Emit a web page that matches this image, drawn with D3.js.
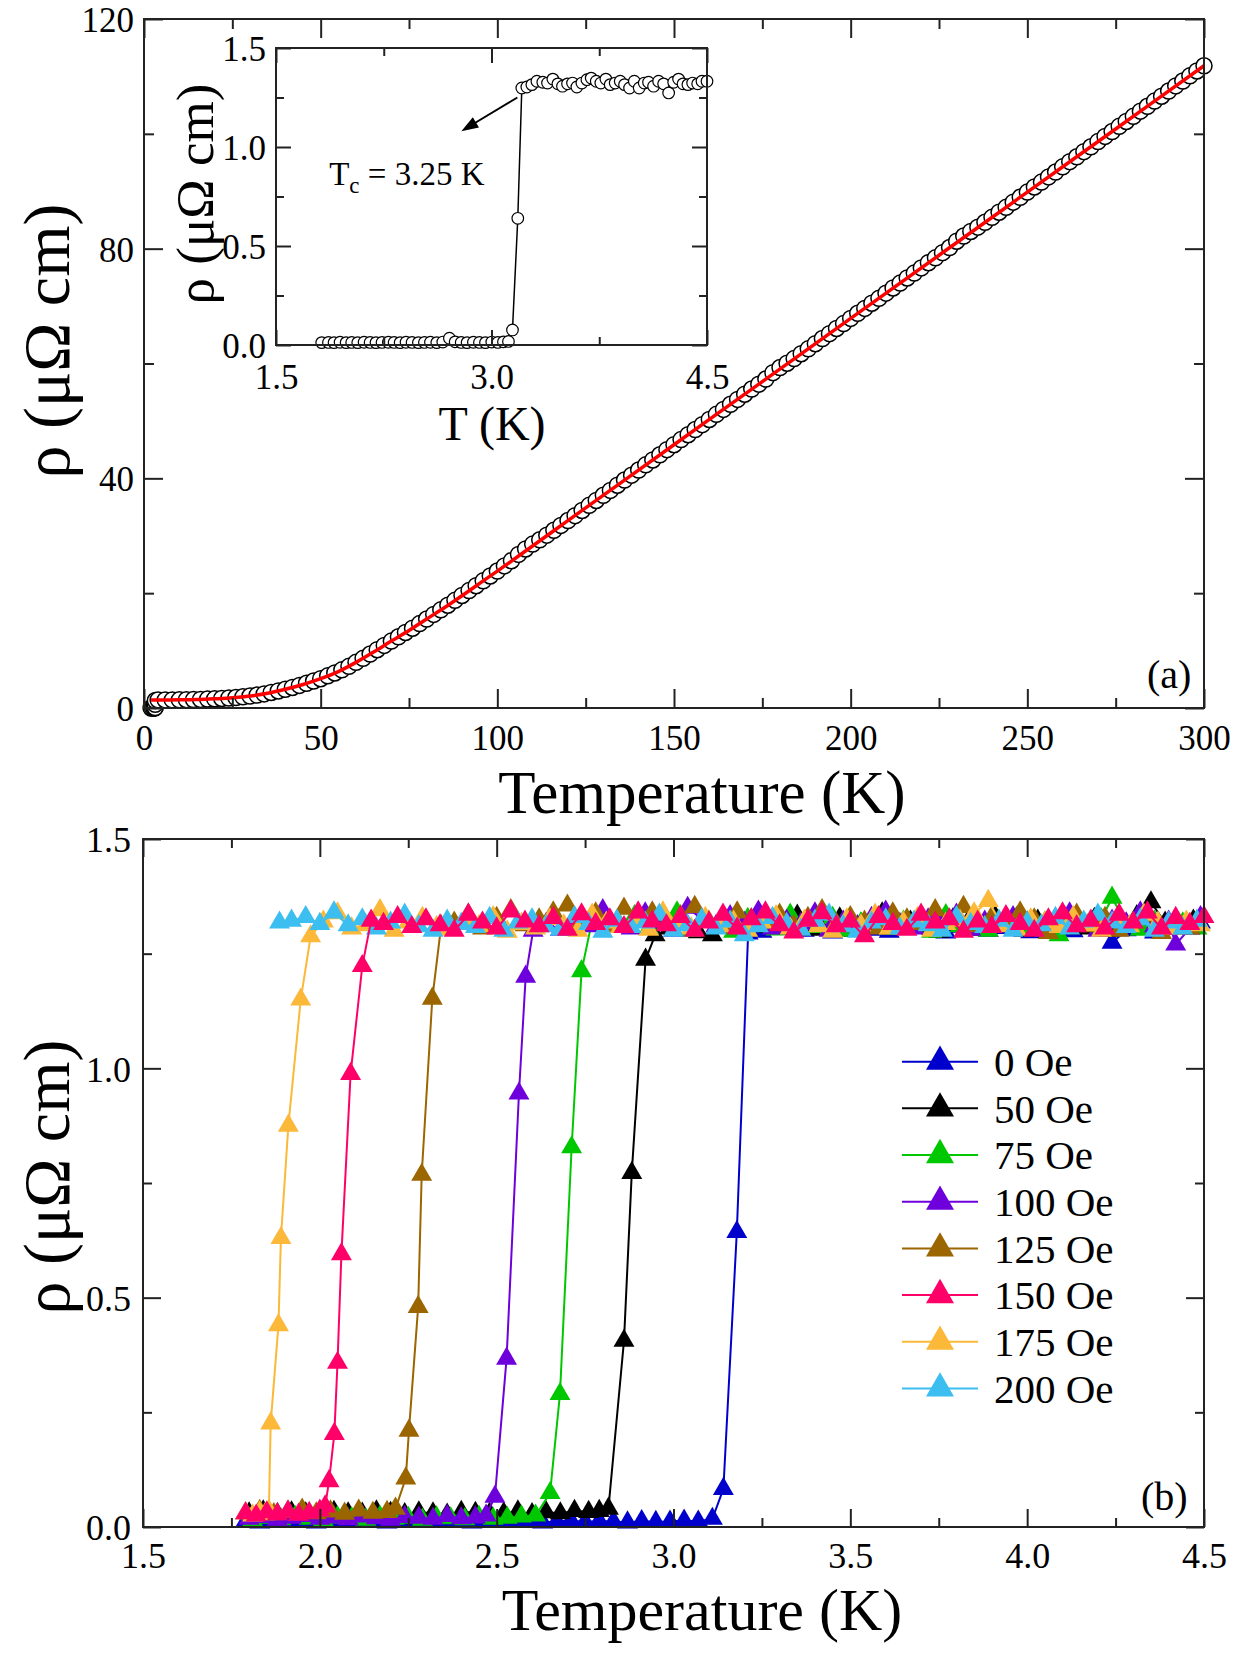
<!DOCTYPE html>
<html>
<head>
<meta charset="utf-8">
<script src="https://cdnjs.cloudflare.com/ajax/libs/d3/7.8.5/d3.min.js"></script>
<style>
body{margin:0;background:#fff}
text{font-family:"Liberation Serif","Times New Roman",serif;fill:#000}
</style>
</head>
<body>
<script>
// ---------- panel (a): rho(T) 2-300 K ----------
var tempA = [2.0,2.4,2.8,3.1,3.15,3.18,3.21,
	4,6,8,10,12,14,16,18,20,22,
	24,26,28,30,32,34,36,38,40,42,
	44,46,48,50,52,54,56,58,60,62,
	64,66,68,70,72,74,76,78,80,82,
	84,86,88,90,92,94,96,98,100,102,
	104,106,108,110,112,114,116,118,120,122,
	124,126,128,130,132,134,136,138,140,142,
	144,146,148,150,152,154,156,158,160,162,
	164,166,168,170,172,174,176,178,180,182,
	184,186,188,190,192,194,196,198,200,202,
	204,206,208,210,212,214,216,218,220,222,
	224,226,228,230,232,234,236,238,240,242,
	244,246,248,250,252,254,256,258,260,262,
	264,266,268,270,272,274,276,278,280,282,
	284,286,288,290,292,294,296,298,300];
var rhoA = [0.0,0.0,0.0,0.02,0.08,0.64,1.30,
	1.40,1.40,1.41,1.42,1.44,1.46,1.50,1.55,1.60,1.66,
	1.73,1.82,1.94,2.08,2.25,2.45,2.70,2.97,3.26,3.58,
	3.93,4.30,4.70,5.10,5.60,6.10,6.65,7.25,7.95,8.65,
	9.40,10.15,10.90,11.65,12.40,13.15,13.90,14.70,15.50,16.30,
	17.10,17.90,18.75,19.60,20.45,21.30,22.15,23.00,23.85,24.75,
	25.65,26.75,27.70,28.55,29.30,30.10,30.95,31.80,32.65,33.50,
	34.40,35.30,36.15,37.05,37.90,38.80,39.70,40.55,41.45,42.35,
	43.20,44.10,45.00,45.85,46.75,47.60,48.50,49.35,50.25,51.15,
	52.00,52.90,53.75,54.65,55.55,56.40,57.30,58.40,59.30,60.05,
	60.85,61.70,62.55,63.45,64.35,65.20,66.10,66.95,67.85,68.75,
	69.60,70.50,71.35,72.25,73.15,74.00,74.90,75.75,76.65,77.55,
	78.40,79.30,80.20,81.30,82.20,83.00,83.75,84.60,85.45,86.35,
	87.20,88.10,88.95,89.85,90.75,91.60,92.50,93.35,94.25,95.15,
	96.00,96.90,97.75,98.65,99.55,100.40,101.30,102.15,103.05,103.95,
	104.80,105.70,106.55,107.45,108.35,109.20,110.10,110.95,111.85];
// fitted curve (red line)
var fitT = [2,5,10,15,20,25,30,35,40,45,50,55,60,65,70,75,80,85,90,95,100,125,150,175,200,225,250,275,300];
var fitRho = [1.39,1.40,1.42,1.47,1.60,1.77,2.08,2.56,3.26,4.10,5.10,6.35,7.95,9.75,11.65,13.50,15.50,17.45,19.55,21.70,23.85,34.85,45.85,56.85,67.85,78.85,89.85,100.85,111.85];

// ---------- inset: low-T zero field ----------
var tInset = [1.818,1.865,1.904,1.946,1.988,2.027,2.069,2.113,2.155,2.196,
	2.238,2.282,2.322,2.364,2.405,2.447,2.491,2.533,2.575,2.619,
	2.661,2.707,2.747,2.789,2.830,2.874,2.916,2.958,3.002,3.044,
	3.083,3.118,3.146,3.183,3.211,
	3.246,3.281,3.316,3.357,3.390,3.427,3.462,3.494,3.529,3.564,
	3.594,3.629,3.664,3.694,3.729,3.761,3.796,3.826,3.861,3.896,
	3.926,3.961,3.994,4.028,4.063,4.093,4.128,4.163,4.198,4.233,
	4.268,4.302,4.333,4.367,4.400,4.435,4.465,4.500];
var rhoInset = [0.012,0.013,0.012,0.014,0.012,0.013,0.012,0.014,0.013,0.012,
	0.013,0.014,0.013,0.012,0.014,0.013,0.012,0.013,0.014,0.012,
	0.015,0.034,0.016,0.013,0.012,0.014,0.013,0.012,0.015,0.013,
	0.016,0.018,0.076,0.640,1.298,
	1.303,1.315,1.332,1.327,1.323,1.343,1.319,1.307,1.319,1.323,
	1.303,1.323,1.340,1.348,1.332,1.323,1.343,1.315,1.323,1.332,
	1.315,1.298,1.332,1.298,1.323,1.327,1.307,1.332,1.319,1.273,
	1.327,1.343,1.319,1.315,1.323,1.319,1.332,1.332];

// ---------- panel (b): field series, [T, rho] ----------
var rho0Oe = [[1.79,0.012],[1.83,0.010],[1.87,0.014],[1.91,0.011],[1.95,0.013],[1.99,0.010],[2.03,0.012],[2.07,0.015],[2.11,0.011],[2.15,0.013],
	[2.19,0.010],[2.23,0.012],[2.27,0.014],[2.31,0.011],[2.35,0.013],[2.39,0.012],[2.43,0.010],[2.47,0.014],[2.51,0.012],[2.55,0.011],
	[2.59,0.013],[2.63,0.010],[2.67,0.012],[2.71,0.014],[2.75,0.011],[2.79,0.013],[2.83,0.012],[2.87,0.010],[2.91,0.013],[2.95,0.011],
	[2.99,0.012],[3.03,0.014],[3.07,0.012],[3.11,0.018],
	[3.141,0.083],[3.179,0.643],[3.211,1.294],
	[3.25,1.298],[3.29,1.305],[3.33,1.312],[3.37,1.300],[3.41,1.318],[3.45,1.296],[3.49,1.308],[3.53,1.315],[3.57,1.302],[3.61,1.298],
	[3.65,1.311],[3.69,1.320],[3.73,1.304],[3.77,1.296],[3.81,1.309],[3.85,1.315],[3.89,1.300],[3.93,1.306],[3.97,1.318],[4.01,1.297],
	[4.05,1.303],[4.09,1.312],[4.13,1.299],[4.17,1.307],[4.21,1.316],[4.24,1.274],[4.28,1.301],[4.32,1.310],[4.36,1.296],[4.40,1.305],
	[4.44,1.312],[4.49,1.318]];
var rho50Oe = [[1.80,0.030],[1.84,0.034],[1.88,0.028],[1.92,0.032],[1.96,0.030],[2.00,0.027],[2.04,0.033],[2.08,0.030],[2.12,0.029],[2.16,0.034],
	[2.20,0.031],[2.24,0.028],[2.28,0.032],[2.32,0.030],[2.36,0.027],[2.40,0.033],[2.44,0.031],[2.48,0.029],[2.52,0.030],[2.56,0.034],
	[2.60,0.028],[2.64,0.032],[2.68,0.030],[2.72,0.035],[2.76,0.033],
	[2.79,0.035],[2.816,0.040],[2.860,0.406],[2.882,0.772],[2.921,1.237],[2.948,1.290],
	[2.99,1.305],[3.03,1.318],[3.07,1.297],[3.11,1.290],[3.15,1.312],[3.19,1.300],[3.23,1.322],[3.27,1.308],[3.31,1.315],[3.35,1.333],
	[3.39,1.302],[3.43,1.318],[3.47,1.327],[3.51,1.300],[3.55,1.312],[3.59,1.338],[3.63,1.305],[3.67,1.320],[3.71,1.310],[3.75,1.298],
	[3.79,1.325],[3.83,1.316],[3.87,1.302],[3.91,1.330],[3.95,1.312],[3.99,1.300],[4.03,1.322],[4.07,1.308],[4.11,1.318],[4.15,1.305],
	[4.19,1.326],[4.23,1.300],[4.27,1.315],[4.31,1.332],[4.35,1.362],[4.39,1.318],[4.43,1.305],[4.47,1.322]];
var rho75Oe = [[1.81,0.015],[1.85,0.020],[1.89,0.017],[1.93,0.022],[1.97,0.018],[2.01,0.015],[2.05,0.021],[2.09,0.019],[2.13,0.016],[2.17,0.022],
	[2.21,0.018],[2.25,0.020],[2.29,0.016],[2.33,0.021],[2.37,0.019],[2.41,0.017],[2.45,0.022],[2.49,0.018],[2.53,0.020],[2.57,0.023],
	[2.61,0.025],
	[2.651,0.074],[2.679,0.290],[2.712,0.828],[2.740,1.212],[2.768,1.315],
	[2.81,1.325],[2.85,1.310],[2.89,1.332],[2.93,1.305],[2.97,1.318],[3.01,1.340],[3.05,1.300],[3.09,1.322],[3.13,1.312],[3.17,1.298],
	[3.21,1.326],[3.25,1.315],[3.29,1.303],[3.33,1.335],[3.37,1.318],[3.41,1.308],[3.45,1.328],[3.49,1.300],[3.53,1.316],[3.57,1.330],
	[3.61,1.305],[3.65,1.320],[3.69,1.312],[3.73,1.298],[3.77,1.334],[3.81,1.310],[3.85,1.322],[3.89,1.300],[3.93,1.315],[3.97,1.328],
	[4.01,1.306],[4.05,1.318],[4.09,1.290],[4.13,1.322],[4.17,1.312],[4.21,1.325],[4.24,1.372],[4.28,1.315],[4.32,1.302],[4.36,1.320],
	[4.40,1.310],[4.44,1.316],[4.48,1.305]];
var rho100Oe = [[1.80,0.018],[1.84,0.022],[1.88,0.016],[1.92,0.020],[1.96,0.024],[2.00,0.018],[2.04,0.021],[2.08,0.017],[2.12,0.023],[2.16,0.019],
	[2.20,0.016],[2.24,0.022],[2.28,0.020],[2.32,0.018],[2.36,0.024],[2.40,0.019],[2.44,0.021],[2.47,0.025],
	[2.495,0.066],[2.528,0.367],[2.563,0.945],[2.582,1.200],[2.603,1.300],
	[2.64,1.315],[2.68,1.302],[2.72,1.328],[2.76,1.310],[2.80,1.345],[2.84,1.320],[2.88,1.305],[2.92,1.338],[2.96,1.318],[3.00,1.300],
	[3.04,1.350],[3.08,1.325],[3.12,1.310],[3.16,1.332],[3.20,1.318],[3.24,1.342],[3.28,1.305],[3.32,1.322],[3.36,1.315],[3.40,1.338],
	[3.44,1.300],[3.48,1.320],[3.52,1.310],[3.56,1.328],[3.60,1.342],[3.64,1.315],[3.68,1.305],[3.72,1.325],[3.76,1.318],[3.80,1.335],
	[3.84,1.302],[3.88,1.320],[3.92,1.312],[3.96,1.330],[4.00,1.318],[4.04,1.305],[4.08,1.325],[4.12,1.338],[4.16,1.312],[4.20,1.300],
	[4.24,1.322],[4.28,1.316],[4.32,1.340],[4.36,1.310],[4.40,1.320],[4.42,1.270],[4.46,1.305],[4.49,1.330]];
var rho125Oe = [[1.79,0.030],[1.83,0.035],[1.87,0.028],[1.91,0.033],[1.95,0.038],[1.99,0.030],[2.03,0.034],[2.07,0.029],[2.11,0.036],[2.15,0.031],
	[2.19,0.033],
	[2.214,0.040],[2.243,0.106],[2.252,0.210],[2.278,0.480],[2.288,0.768],[2.318,1.152],[2.343,1.310],
	[2.38,1.318],[2.42,1.335],[2.46,1.305],[2.50,1.328],[2.54,1.345],[2.58,1.312],[2.62,1.325],[2.66,1.340],[2.70,1.355],[2.74,1.320],
	[2.78,1.338],[2.82,1.310],[2.86,1.348],[2.90,1.325],[2.94,1.340],[2.98,1.315],[3.02,1.332],[3.06,1.352],[3.10,1.320],[3.14,1.308],
	[3.18,1.340],[3.22,1.325],[3.26,1.318],[3.30,1.335],[3.34,1.310],[3.38,1.328],[3.42,1.345],[3.46,1.315],[3.50,1.330],[3.54,1.320],
	[3.58,1.305],[3.62,1.338],[3.66,1.325],[3.70,1.315],[3.74,1.345],[3.78,1.322],[3.82,1.352],[3.86,1.310],[3.90,1.330],[3.94,1.318],
	[3.98,1.340],[4.02,1.325],[4.06,1.295],[4.10,1.320],[4.14,1.335],[4.18,1.310],[4.22,1.328],[4.26,1.300],[4.30,1.318],[4.34,1.332],
	[4.38,1.295],[4.42,1.315],[4.46,1.305]];
var rho150Oe = [[1.79,0.030],[1.82,0.025],[1.85,0.032],[1.88,0.028],[1.91,0.034],[1.94,0.027],[1.97,0.031],[2.00,0.036],
	[2.015,0.045],[2.026,0.100],[2.041,0.203],[2.050,0.358],[2.061,0.595],[2.087,0.988],[2.120,1.223],[2.145,1.322],
	[2.18,1.315],[2.22,1.330],[2.26,1.308],[2.30,1.325],[2.34,1.312],[2.38,1.300],[2.42,1.335],[2.46,1.318],[2.50,1.305],[2.54,1.342],
	[2.58,1.320],[2.62,1.310],[2.66,1.328],[2.70,1.302],[2.74,1.336],[2.78,1.315],[2.82,1.325],[2.86,1.308],[2.90,1.340],[2.94,1.320],
	[2.98,1.312],[3.02,1.330],[3.06,1.300],[3.10,1.318],[3.14,1.335],[3.18,1.305],[3.22,1.325],[3.26,1.340],[3.30,1.312],[3.34,1.296],
	[3.38,1.322],[3.42,1.338],[3.46,1.310],[3.50,1.320],[3.54,1.288],[3.58,1.330],[3.62,1.315],[3.66,1.302],[3.70,1.335],[3.74,1.318],
	[3.78,1.325],[3.82,1.298],[3.86,1.320],[3.90,1.308],[3.94,1.332],[3.98,1.315],[4.02,1.300],[4.06,1.325],[4.10,1.338],[4.14,1.310],
	[4.18,1.322],[4.22,1.305],[4.26,1.335],[4.30,1.318],[4.34,1.340],[4.38,1.305],[4.42,1.328],[4.46,1.315],[4.50,1.330]];
var rho175Oe = [[1.79,0.030],[1.81,0.025],[1.83,0.032],[1.845,0.028],[1.856,0.035],
	[1.861,0.226],[1.883,0.440],[1.890,0.630],[1.911,0.875],[1.946,1.150],[1.974,1.288],
	[2.01,1.320],[2.05,1.338],[2.09,1.305],[2.13,1.312],[2.17,1.345],[2.21,1.300],[2.25,1.318],[2.29,1.328],[2.33,1.308],[2.37,1.302],
	[2.41,1.322],[2.45,1.310],[2.49,1.330],[2.53,1.298],[2.57,1.315],[2.61,1.305],[2.65,1.325],[2.69,1.312],[2.73,1.300],[2.77,1.335],
	[2.81,1.318],[2.85,1.308],[2.89,1.322],[2.93,1.302],[2.97,1.340],[3.01,1.315],[3.05,1.305],[3.09,1.328],[3.13,1.310],[3.17,1.320],
	[3.21,1.300],[3.25,1.318],[3.29,1.332],[3.33,1.305],[3.37,1.322],[3.41,1.310],[3.45,1.298],[3.49,1.325],[3.53,1.312],[3.57,1.335],
	[3.61,1.305],[3.65,1.318],[3.69,1.328],[3.73,1.300],[3.77,1.315],[3.81,1.322],[3.85,1.338],[3.89,1.365],[3.93,1.310],[3.97,1.302],
	[4.01,1.325],[4.05,1.318],[4.09,1.308],[4.13,1.330],[4.17,1.312],[4.21,1.300],[4.25,1.322],[4.29,1.310],[4.33,1.335],[4.37,1.318],
	[4.41,1.305],[4.45,1.320],[4.49,1.312]];
var rho200Oe = [[1.886,1.318],[1.92,1.322],[1.96,1.330],[2.00,1.315],[2.04,1.340],[2.08,1.312],[2.12,1.325],[2.16,1.305],[2.20,1.318],[2.24,1.335],
	[2.28,1.310],[2.32,1.300],[2.36,1.322],[2.40,1.315],[2.44,1.308],[2.48,1.328],[2.52,1.300],[2.56,1.318],[2.60,1.325],[2.64,1.310],
	[2.68,1.302],[2.72,1.330],[2.76,1.315],[2.80,1.298],[2.84,1.322],[2.88,1.308],[2.92,1.318],[2.96,1.335],[3.00,1.300],[3.04,1.312],
	[3.08,1.325],[3.12,1.305],[3.16,1.320],[3.20,1.290],[3.24,1.310],[3.28,1.328],[3.32,1.315],[3.36,1.302],[3.40,1.322],[3.44,1.335],
	[3.48,1.310],[3.52,1.298],[3.56,1.318],[3.60,1.325],[3.64,1.305],[3.68,1.320],[3.72,1.312],[3.76,1.300],[3.80,1.330],[3.84,1.315],
	[3.88,1.308],[3.92,1.322],[3.96,1.300],[4.00,1.318],[4.04,1.312],[4.08,1.328],[4.12,1.305],[4.16,1.320],[4.20,1.335],[4.24,1.318],
	[4.28,1.308],[4.32,1.325],[4.36,1.300],[4.40,1.318],[4.44,1.305],[4.48,1.322]];

var fieldLabels = ["0 Oe","50 Oe","75 Oe","100 Oe","125 Oe","150 Oe","175 Oe","200 Oe"];
var fieldColors = ["#0000cd","#000000","#00c800","#6e00dc","#9b6500","#ff0068","#fcb838","#3cbef0"];
var fieldData = [rho0Oe, rho50Oe, rho75Oe, rho100Oe, rho125Oe, rho150Oe, rho175Oe, rho200Oe];
var drawOrder = [0,1,2,3,4,6,7,5];

var W = 1244, H = 1659;
var svg = d3.select("body").append("svg").attr("width", W).attr("height", H);
svg.append("rect").attr("width", W).attr("height", H).attr("fill", "#fff");

var AX = "#222";

// frame with inward ticks on all four sides
function frame(g, x, y, o){
	var xr = x.range(), yr = y.range();
	function ax(gen, tr){
		var a = g.append("g").attr("transform", tr).call(gen);
		a.select(".domain").remove();
		a.attr("font-size", o.font).attr("font-family", null);
		a.selectAll("line").attr("stroke", AX).attr("stroke-width", 2);
		return a;
	}
	ax(d3.axisBottom(x).tickValues(o.xMajor).tickSize(-o.big).tickPadding(o.padX).tickFormat(o.fmtX), "translate(0," + yr[0] + ")");
	ax(d3.axisBottom(x).tickValues(o.xMinor).tickSize(-o.small).tickFormat(""), "translate(0," + yr[0] + ")");
	ax(d3.axisTop(x).tickValues(o.xMajor).tickSize(-o.big).tickFormat(""), "translate(0," + yr[1] + ")");
	ax(d3.axisTop(x).tickValues(o.xMinor).tickSize(-o.small).tickFormat(""), "translate(0," + yr[1] + ")");
	var left = ax(d3.axisLeft(y).tickValues(o.yMajor).tickSize(-o.big).tickPadding(o.padY).tickFormat(o.fmtY), "translate(" + xr[0] + ",0)");
	left.selectAll("text").attr("dy", "0.36em");
	ax(d3.axisLeft(y).tickValues(o.yMinor).tickSize(-o.small).tickFormat(""), "translate(" + xr[0] + ",0)");
	ax(d3.axisRight(y).tickValues(o.yMajor).tickSize(-o.big).tickFormat(""), "translate(" + xr[1] + ",0)");
	ax(d3.axisRight(y).tickValues(o.yMinor).tickSize(-o.small).tickFormat(""), "translate(" + xr[1] + ",0)");
	g.append("rect").attr("x", xr[0]).attr("y", yr[1])
		.attr("width", xr[1] - xr[0]).attr("height", yr[0] - yr[1])
		.attr("fill", "none").attr("stroke", AX).attr("stroke-width", 2);
}

var rhoLabel = "ρ (μΩ cm)";

///////////////////////////
// panel (a)
///////////////////////////
var xA = d3.scaleLinear().domain([0, 300]).range([144, 1204]);
var yA = d3.scaleLinear().domain([0, 120]).range([708, 19]);
var gA = svg.append("g");

var ptsA = tempA.map(function(t, i){ return [t, rhoA[i]]; });
gA.append("g").selectAll("circle").data(ptsA).enter().append("circle")
	.attr("cx", function(d){ return xA(d[0]); })
	.attr("cy", function(d){ return yA(d[1]); })
	.attr("r", 8)
	.attr("fill", "#fff").attr("stroke", "#000").attr("stroke-width", 1.5);

gA.append("path")
	.datum(fitT.map(function(t, i){ return [t, fitRho[i]]; }))
	.attr("fill", "none").attr("stroke", "#ff0000").attr("stroke-width", 3.5)
	.attr("d", d3.line().x(function(d){ return xA(d[0]); }).y(function(d){ return yA(d[1]); }).curve(d3.curveMonotoneX));

frame(gA, xA, yA, {
	xMajor: [0,50,100,150,200,250,300], xMinor: [25,75,125,175,225,275],
	yMajor: [0,40,80,120], yMinor: [20,60,100],
	big: 19, small: 10, font: 35, padX: 17, padY: 10,
	fmtX: d3.format("d"), fmtY: d3.format("d")
});

gA.append("text").attr("x", 702).attr("y", 813).attr("text-anchor", "middle")
	.attr("font-size", 61).text("Temperature (K)");
gA.append("text").attr("transform", "translate(46,341) rotate(-90)")
	.attr("text-anchor", "middle").attr("dy", "0.35em")
	.attr("font-size", 66).text(rhoLabel);
gA.append("text").attr("x", 1147).attr("y", 688).attr("font-size", 40).text("(a)");

///////////////////////////
// inset
///////////////////////////
var xI = d3.scaleLinear().domain([1.5, 4.5]).range([276, 707]);
var yI = d3.scaleLinear().domain([0, 1.5]).range([345, 48]);
var gI = svg.append("g");
gI.append("rect").attr("x", 276).attr("y", 48).attr("width", 431).attr("height", 297).attr("fill", "#fff");

var ptsI = tInset.map(function(t, i){ return [t, rhoInset[i]]; });
gI.append("path").datum(ptsI)
	.attr("fill", "none").attr("stroke", "#000").attr("stroke-width", 1.5)
	.attr("d", d3.line().x(function(d){ return xI(d[0]); }).y(function(d){ return yI(d[1]); }));
gI.append("g").selectAll("circle").data(ptsI).enter().append("circle")
	.attr("cx", function(d){ return xI(d[0]); })
	.attr("cy", function(d){ return yI(d[1]); })
	.attr("r", 5.8)
	.attr("fill", "#fff").attr("stroke", "#000").attr("stroke-width", 1.2);

frame(gI, xI, yI, {
	xMajor: [1.5,3.0,4.5], xMinor: [2.25,3.75],
	yMajor: [0,0.5,1.0,1.5], yMinor: [0.25,0.75,1.25],
	big: 15, small: 8, font: 35, padX: 19, padY: 10,
	fmtX: d3.format(".1f"), fmtY: d3.format(".1f")
});

gI.append("text").attr("x", 492).attr("y", 440).attr("text-anchor", "middle")
	.attr("font-size", 48).text("T (K)");
gI.append("text").attr("transform", "translate(194,194) rotate(-90)")
	.attr("text-anchor", "middle").attr("dy", "0.35em")
	.attr("font-size", 53).text(rhoLabel);

// Tc annotation
var tcText = gI.append("text").attr("x", xI(1.87)).attr("y", yI(0.81)).attr("font-size", 33);
tcText.append("tspan").text("T");
tcText.append("tspan").attr("font-size", 23).attr("dy", 8).text("c");
tcText.append("tspan").attr("dy", -8).text(" = 3.25 K");

var a0 = [xI(3.18), yI(1.25)], a1 = [xI(2.79), yI(1.08)];
var dx = a1[0] - a0[0], dy = a1[1] - a0[1], len = Math.sqrt(dx*dx + dy*dy);
var ux = dx/len, uy = dy/len;
gI.append("line").attr("x1", a0[0]).attr("y1", a0[1])
	.attr("x2", a1[0] - ux*10).attr("y2", a1[1] - uy*10)
	.attr("stroke", "#000").attr("stroke-width", 2);
gI.append("path").attr("fill", "#000")
	.attr("d", "M" + a1[0] + "," + a1[1] +
		"L" + (a1[0] - ux*17 - uy*6) + "," + (a1[1] - uy*17 + ux*6) +
		"L" + (a1[0] - ux*17 + uy*6) + "," + (a1[1] - uy*17 - ux*6) + "Z");

///////////////////////////
// panel (b)
///////////////////////////
var xB = d3.scaleLinear().domain([1.5, 4.5]).range([143, 1204]);
var yB = d3.scaleLinear().domain([0, 1.5]).range([1527, 839]);
var gB = svg.append("g");

var lineB = d3.line().x(function(d){ return xB(d[0]); }).y(function(d){ return yB(d[1]); });
var tri = d3.symbol().type(d3.symbolTriangle).size(190);

drawOrder.forEach(function(k){
	var s = gB.append("g");
	s.append("path").datum(fieldData[k])
		.attr("fill", "none").attr("stroke", fieldColors[k]).attr("stroke-width", 2)
		.attr("d", lineB);
	s.selectAll("path.pt").data(fieldData[k]).enter().append("path").attr("class", "pt")
		.attr("transform", function(d){ return "translate(" + xB(d[0]) + "," + yB(d[1]) + ")"; })
		.attr("d", tri).attr("fill", fieldColors[k]);
});

frame(gB, xB, yB, {
	xMajor: [1.5,2.0,2.5,3.0,3.5,4.0,4.5], xMinor: [1.75,2.25,2.75,3.25,3.75,4.25],
	yMajor: [0,0.5,1.0,1.5], yMinor: [0.25,0.75,1.25],
	big: 18, small: 9, font: 36, padX: 15, padY: 12,
	fmtX: d3.format(".1f"), fmtY: d3.format(".1f")
});

gB.append("text").attr("x", 702).attr("y", 1630).attr("text-anchor", "middle")
	.attr("font-size", 60).text("Temperature (K)");
gB.append("text").attr("transform", "translate(46,1177) rotate(-90)")
	.attr("text-anchor", "middle").attr("dy", "0.35em")
	.attr("font-size", 66).text(rhoLabel);
gB.append("text").attr("x", 1141).attr("y", 1510).attr("font-size", 40).text("(b)");

// legend
var legTri = d3.symbol().type(d3.symbolTriangle).size(340);
var leg = gB.append("g").selectAll("g").data(fieldLabels).enter().append("g")
	.attr("transform", function(d, i){ return "translate(0," + (1061.7 + i*46.67) + ")"; });
leg.append("line").attr("x1", 902).attr("x2", 978)
	.attr("stroke", function(d, i){ return fieldColors[i]; }).attr("stroke-width", 2);
leg.append("path").attr("transform", "translate(940,0)").attr("d", legTri)
	.attr("fill", function(d, i){ return fieldColors[i]; });
leg.append("text").attr("x", 994).attr("dy", "0.35em").attr("font-size", 41)
	.text(function(d){ return d; });
</script>
</body>
</html>
